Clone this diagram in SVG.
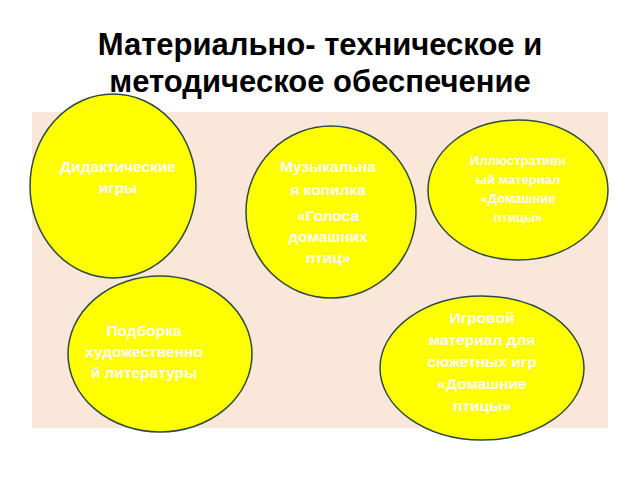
<svg xmlns="http://www.w3.org/2000/svg" width="640" height="480" viewBox="0 0 640 480">
<style>
.e{fill:#ffff00;stroke:#2e4a3a;stroke-width:1.5}
.t{font-family:"Liberation Sans",Arial,sans-serif;font-weight:bold;fill:#fff;text-anchor:middle;font-size:15.5px}
.s{font-size:13px}
.h{font-family:"Liberation Sans",Arial,sans-serif;font-weight:bold;fill:#000;text-anchor:middle;font-size:31px}
</style>
<rect width="640" height="480" fill="#fff"/>
<text class="h" x="320" y="55">Материально- техническое и</text>
<text class="h" x="320" y="92">методическое обеспечение</text>
<rect x="32" y="112" width="576" height="316" fill="#fbe6da"/>
<g id="n1"><ellipse class="e" cx="113" cy="186" rx="83" ry="92"/>
<text class="t" x="118" y="172">Дидактические</text><text class="t" x="118" y="193">игры</text></g>
<g id="n2"><ellipse class="e" cx="331" cy="212" rx="85" ry="86"/>
<text class="t" x="328" y="172">Музыкальна</text><text class="t" x="328" y="195">я копилка</text>
<text class="t" x="328" y="221">«Голоса</text><text class="t" x="328" y="242">домашних</text><text class="t" x="328" y="263">птиц»</text></g>
<g id="n3"><ellipse class="e" cx="518" cy="190" rx="90" ry="70"/>
<text class="t s" x="518" y="165">Иллюстративн</text><text class="t s" x="518" y="184">ый материал</text>
<text class="t s" x="518" y="203">«Домашние</text><text class="t s" x="518" y="222">птицы»</text></g>
<g id="n4"><ellipse class="e" cx="160" cy="354" rx="92" ry="78"/>
<text class="t" x="144" y="336">Подборка</text><text class="t" x="144" y="357">художественно</text><text class="t" x="144" y="378">й литературы</text></g>
<g id="n5"><ellipse class="e" cx="482" cy="368" rx="102" ry="72"/>
<text class="t" x="482" y="323">Игровой</text><text class="t" x="482" y="345">материал для</text><text class="t" x="482" y="367">сюжетных игр</text>
<text class="t" x="482" y="389">«Домашние</text><text class="t" x="482" y="411">птицы»</text></g>
<g id="connectors"/>
</svg>
